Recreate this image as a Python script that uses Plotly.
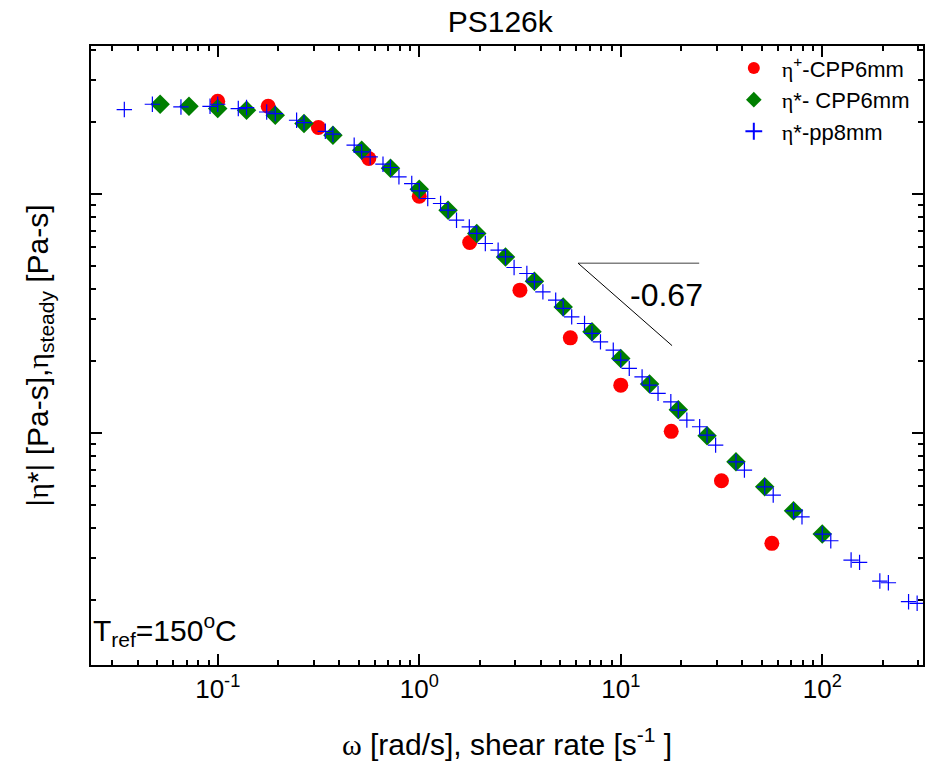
import plotly.graph_objects as go

# --- data ---
# eta+ (steady / transient) CPP 6 mm
red_x = [0.1, 0.178, 0.316, 0.562, 1.0, 1.78, 3.16, 5.62, 10.0, 17.8, 31.6, 56.2]
red_y = [24430, 23270, 18960, 14060, 9780, 6260, 3956, 2497, 1583, 1014, 630, 344.5]

# |eta*| CPP 6 mm
green_x = [0.0518, 0.0720, 0.1, 0.139, 0.193, 0.268, 0.373, 0.518, 0.720,
           1.0, 1.39, 1.93, 2.68, 3.73, 5.18, 7.20, 10.0, 13.9, 19.3, 26.8,
           37.3, 51.8, 72.0, 100.0]
green_y = [23730, 23270, 22770, 22400, 21350, 19710, 17610, 15230, 12810,
           10460, 8546, 6830, 5448, 4311, 3366, 2646, 2048, 1599, 1248, 971.4,
           756.2, 594.2, 471.6, 376.9]

# |eta*| pp 8 mm (three overlapping runs)
blue1_x = [0.0344, 0.0474, 0.0657, 0.0916, 0.1265, 0.175, 0.2463, 0.342, 0.4755,
           0.661, 0.918, 1.276, 1.772, 2.463, 3.42, 4.755, 6.61, 9.18, 12.76,
           17.72, 24.63]
blue1_y = [22550, 23730, 23120, 23270, 22770, 22030, 20340, 18290, 15990, 13320,
           11050, 9116, 7276, 5812, 4643, 3590, 2868, 2218, 1715, 1348, 1060]
blue2_x = [0.1, 0.139, 0.193, 0.268, 0.373, 0.518, 0.720, 1.0, 1.39, 1.93, 2.68,
           3.73, 5.18, 7.20, 10.0, 13.9, 19.3, 26.8, 37.3, 51.8, 72.0, 100.0,
           139.0, 193.0, 268.0]
blue2_y = [23730, 22990, 21700, 19890, 17780, 14990, 12900, 10290, 8546, 6830,
           5448, 4282, 3315, 2606, 2015, 1583, 1245, 978.1, 756.2, 594.2, 471.6,
           376.9, 293.3, 239.6, 196.3]
blue3_x = [0.571, 0.793, 1.102, 1.531, 2.128, 2.956, 4.108, 5.708, 7.931, 11.02,
           15.31, 21.28, 29.56, 41.08, 57.08, 79.31, 110.2, 153.1, 212.8, 295.6]
blue3_y = [14280, 11780, 9567, 7762, 6200, 4920, 3890, 3057, 2403, 1860, 1462,
           1130, 888.1, 698.2, 548.5, 445.1, 353.2, 286.9, 235.7, 193.3]

# slope guide (-0.67)
slope_h_x = [6.14, 24.5]
slope_h_y = [5129, 5129]
slope_d_x = [6.14, 17.97]
slope_d_y = [5129, 2317]

x_tickvals = [0.1, 1, 10, 100]
x_ticktext = ["10<sup>-1</sup>", "10<sup>0</sup>", "10<sup>1</sup>", "10<sup>2</sup>"]

SERIF = "Liberation Serif, Times New Roman, serif"
SANS = "Liberation Sans, Arial, sans-serif"


def g(s):
    return '<span style="font-family:%s">%s</span>' % (SERIF, s)


fig = go.Figure()

fig.add_trace(go.Scatter(x=slope_h_x, y=slope_h_y, mode="lines",
                         line=dict(color="#808080", width=1.5),
                         showlegend=False, hoverinfo="skip"))
fig.add_trace(go.Scatter(x=slope_d_x, y=slope_d_y, mode="lines",
                         line=dict(color="black", width=1),
                         showlegend=False, hoverinfo="skip"))

fig.add_trace(go.Scatter(x=red_x, y=red_y, mode="markers",
                         name=g("η") + "<sup>+</sup>-CPP6mm",
                         marker=dict(symbol="circle", size=15, color="#FF0000",
                                     line=dict(width=0))))
fig.add_trace(go.Scatter(x=green_x, y=green_y, mode="markers",
                         name=g("η") + "*- CPP6mm",
                         marker=dict(symbol="diamond", size=15, color="#007F00",
                                     line=dict(width=0))))
fig.add_trace(go.Scatter(x=blue1_x + blue2_x + blue3_x,
                         y=blue1_y + blue2_y + blue3_y, mode="markers",
                         name=g("η") + "*-pp8mm",
                         marker=dict(symbol="cross-thin", size=11,
                                     line=dict(width=1.2, color="#0000FF"))))

axis_common = dict(
    type="log", showline=True, linecolor="black", linewidth=2, mirror="ticks",
    ticks="inside", ticklen=11, tickwidth=2, tickcolor="black",
    showgrid=False, zeroline=False,
    minor=dict(ticks="inside", ticklen=5, tickwidth=2, tickcolor="black",
               dtick="D1", showgrid=False),
)

fig.update_layout(
    width=935, height=761,
    margin=dict(l=91, r=12, t=46, b=96, autoexpand=False),
    paper_bgcolor="white", plot_bgcolor="white",
    font=dict(family=SANS, size=26, color="black"),
    title=dict(text="PS126k", x=0.535, xanchor="center", y=0.985, yanchor="top",
               font=dict(size=30)),
    xaxis=dict(axis_common, range=[-1.6288, 2.4998], tickvals=x_tickvals,
               ticktext=x_ticktext, tickfont=dict(size=26),
               title=dict(text=g("ω") + " [rad/s], shear rate [s<sup>-1</sup> ]",
                          font=dict(size=30), standoff=34)),
    yaxis=dict(axis_common, range=[2.028, 4.6192], dtick=1, showticklabels=False,
               title=dict(text="|" + g("η") + "*| [Pa-s]," + g("η")
                          + "<sub>steady</sub> [Pa-s]",
                          font=dict(size=30), standoff=32)),
    legend=dict(x=0.763, y=0.998, xanchor="left", yanchor="top",
                bgcolor="rgba(0,0,0,0)", font=dict(size=22),
                itemsizing="constant", itemwidth=46),
    annotations=[
        dict(text="-0.67", xref="paper", yref="paper", x=0.692, y=0.598,
             xanchor="center", yanchor="middle", showarrow=False,
             font=dict(size=32)),
        dict(text="T<sub>ref</sub>=150<sup>o</sup>C", xref="paper", yref="paper",
             x=0.0, y=0.02, xanchor="left", yanchor="bottom", showarrow=False,
             font=dict(size=30)),
    ],
)

fig.write_html("out.html")
